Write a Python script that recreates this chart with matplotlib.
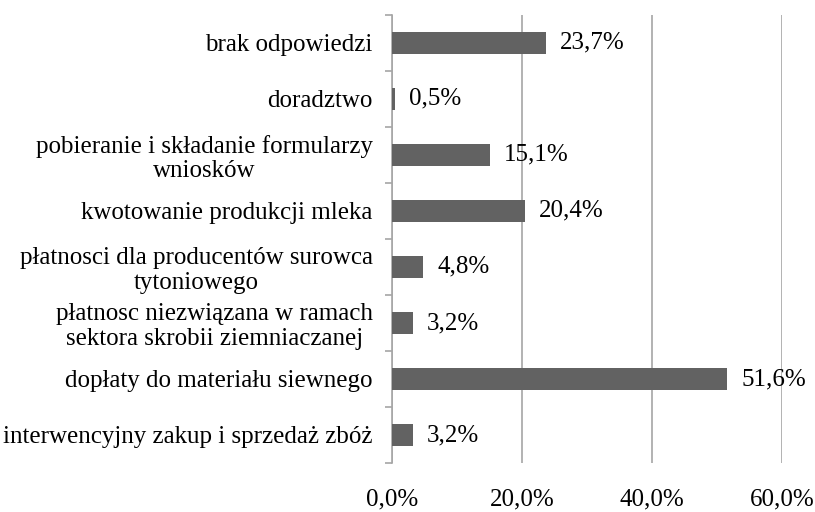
import matplotlib
matplotlib.use("Agg")
import matplotlib.pyplot as plt
import numpy as np

# Categories listed bottom to top, as they appear on the chart
categories = [
    "interwencyjny zakup i sprzedaż zbóż",
    "dopłaty do materiału siewnego",
    "płatnosc niezwiązana w ramach\nsektora skrobii ziemniaczanej",
    "płatnosci dla producentów surowca\ntytoniowego",
    "kwotowanie produkcji mleka",
    "pobieranie i składanie formularzy\nwniosków",
    "doradztwo",
    "brak odpowiedzi",
]
values = [3.2, 51.6, 3.2, 4.8, 20.4, 15.1, 0.5, 23.7]
xticks = [0, 20, 40, 60]

plt.rcParams['font.family'] = ['Liberation Serif', 'DejaVu Serif']

fig = plt.figure(figsize=(8.15, 5.12), dpi=100)
ax = fig.add_axes([0.481, 0.0957, 0.4785, 0.8753])

y = np.arange(len(categories))
ax.barh(y, values, height=0.4, color='#626262', zorder=3)

ax.set_xlim(0, 60)
ax.set_ylim(-0.5, len(categories) - 0.5)

# Vertical grid
ax.set_xticks(xticks)
ax.set_xticklabels([("%.1f%%" % v).replace('.', ',') for v in xticks])
ax.grid(True, axis='x', color='#a6a6a6', linewidth=1.2, zorder=0)
ax.tick_params(axis='x', length=0, pad=18, labelsize=18)

# Category labels, ticks on boundaries
ax.set_yticks(y)
ax.set_yticklabels(categories, multialignment='center', linespacing=1.15)
ax.set_yticks(np.arange(-0.5, len(categories)), minor=True)
ax.tick_params(axis='y', which='major', length=0, pad=14, labelsize=18)
ax.tick_params(axis='y', which='minor', length=5, color='#a6a6a6', width=1.2)

for s in ['top', 'right', 'bottom']:
    ax.spines[s].set_visible(False)
ax.spines['left'].set_color('#a6a6a6')
ax.spines['left'].set_linewidth(1.2)

# Data labels
for yi, v in zip(y, values):
    ax.annotate(("%.1f%%" % v).replace('.', ','), (v, yi), xytext=(10, 0),
                textcoords='offset points', va='center', ha='left', fontsize=18, zorder=4)

fig.savefig('out.png', dpi=100)
